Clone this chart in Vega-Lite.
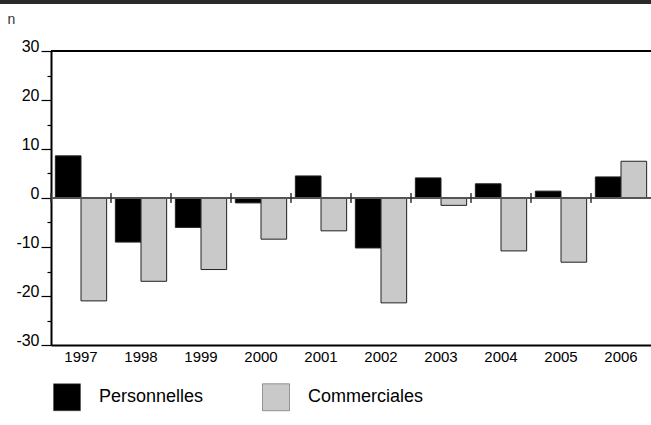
{
  "$schema": "https://vega.github.io/schema/vega-lite/v6.json",
  "width": 600,
  "height": 294,
  "autosize": {"type": "none"},
  "padding": {"left": 51, "top": 51, "right": 0, "bottom": 80},
  "background": "white",
  "config": {
    "view": {"stroke": null},
    "font": "Liberation Sans"
  },
  "data": {
    "values": [
      {"annee": "1997", "type": "Personnelles", "n": 8.6},
      {"annee": "1997", "type": "Commerciales", "n": -21.0},
      {"annee": "1998", "type": "Personnelles", "n": -9.0},
      {"annee": "1998", "type": "Commerciales", "n": -17.0},
      {"annee": "1999", "type": "Personnelles", "n": -6.0},
      {"annee": "1999", "type": "Commerciales", "n": -14.6},
      {"annee": "2000", "type": "Personnelles", "n": -1.0},
      {"annee": "2000", "type": "Commerciales", "n": -8.4},
      {"annee": "2001", "type": "Personnelles", "n": 4.5},
      {"annee": "2001", "type": "Commerciales", "n": -6.7},
      {"annee": "2002", "type": "Personnelles", "n": -10.2},
      {"annee": "2002", "type": "Commerciales", "n": -21.4},
      {"annee": "2003", "type": "Personnelles", "n": 4.1},
      {"annee": "2003", "type": "Commerciales", "n": -1.5},
      {"annee": "2004", "type": "Personnelles", "n": 2.9},
      {"annee": "2004", "type": "Commerciales", "n": -10.8},
      {"annee": "2005", "type": "Personnelles", "n": 1.4},
      {"annee": "2005", "type": "Commerciales", "n": -13.1},
      {"annee": "2006", "type": "Personnelles", "n": 4.3},
      {"annee": "2006", "type": "Commerciales", "n": 7.5}
    ]
  },
  "encoding": {
    "x": {
      "field": "annee",
      "type": "nominal",
      "scale": {"paddingInner": 0, "paddingOuter": 0},
      "axis": {
        "title": null,
        "labelAngle": 0,
        "labelFontSize": 15,
        "labelColor": "black",
        "labelPadding": 4,
        "ticks": false,
        "domainColor": "black",
        "domainWidth": 2
      }
    },
    "y": {
      "field": "n",
      "type": "quantitative",
      "scale": {"domain": [-30, 30], "nice": false, "zero": false},
      "axis": {
        "title": "n",
        "titleAngle": 0,
        "titleAlign": "left",
        "titleBaseline": "alphabetic",
        "titleFontWeight": "normal",
        "titleFontSize": 14,
        "titleColor": "#333",
        "titleX": -44,
        "titleY": -28,
        "values": [-30, -25, -20, -15, -10, -5, 0, 5, 10, 15, 20, 25, 30],
        "labelExpr": "datum.value % 10 == 0 ? '' + datum.value : ''",
        "labelFontSize": 16,
        "labelColor": "black",
        "labelBaseline": "alphabetic",
        "labelPadding": 2,
        "tickColor": "black",
        "tickWidth": 1.2,
        "tickSize": {"condition": {"test": "datum.value % 10 != 0", "value": 4}, "value": 10},
        "grid": false,
        "domainColor": "black",
        "domainWidth": 2
      }
    }
  },
  "layer": [
    {
      "mark": {"type": "bar", "stroke": "#222", "strokeWidth": 1},
      "encoding": {
        "xOffset": {
          "field": "type",
          "sort": ["Personnelles", "Commerciales"],
          "scale": {"paddingInner": 0, "paddingOuter": 0.17}
        },
        "fill": {
          "field": "type",
          "type": "nominal",
          "sort": ["Personnelles", "Commerciales"],
          "scale": {"domain": ["Personnelles", "Commerciales"], "range": ["black", "#c9c9c9"]},
          "legend": {
            "title": null,
            "orient": "none",
            "legendX": 2,
            "legendY": 332,
            "direction": "horizontal",
            "symbolType": "square",
            "symbolSize": 729,
            "symbolStrokeColor": "#444",
            "symbolStrokeWidth": 0.5,
            "labelFontSize": 18,
            "labelColor": "black",
            "labelOffset": 18,
            "columnPadding": 57
          }
        }
      }
    },
    {
      "mark": {"type": "rule", "color": "#555", "strokeWidth": 1},
      "encoding": {"y": {"datum": 0}, "x": null}
    },
    {
      "mark": {"type": "rule", "color": "#333", "strokeWidth": 1},
      "encoding": {
        "x": {"field": "annee", "type": "nominal", "bandPosition": 0},
        "y": {"datum": -1},
        "y2": {"datum": 1}
      }
    },
    {
      "mark": {"type": "rule", "color": "black", "strokeWidth": 1.5},
      "encoding": {"y": {"datum": 30}, "x": null}
    },
    {
      "mark": {"type": "rule", "color": "#2a2a2a", "strokeWidth": 4, "clip": false},
      "encoding": {"x": {"value": -51}, "x2": {"value": 600}, "y": {"value": -49}}
    }
  ]
}
